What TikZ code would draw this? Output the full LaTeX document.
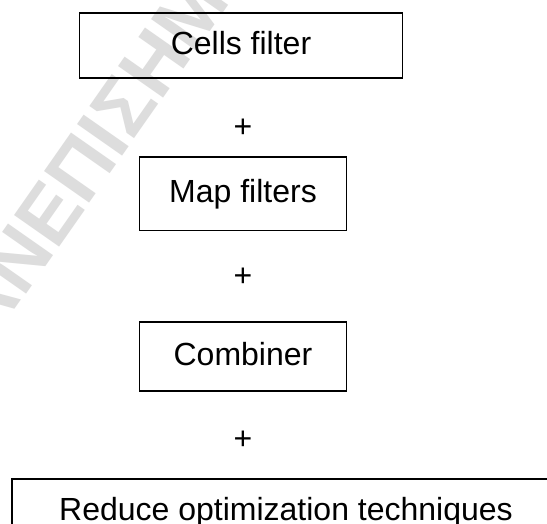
\documentclass[tikz,border=0pt]{standalone}
\usepackage{fontspec}
\setmainfont{Liberation Sans}
\newfontfamily\markfont{Liberation Sans}
\definecolor{markgray}{RGB}{221,221,221}
\tikzset{
  stagebox/.style={draw=black, line width=1.6pt, inner sep=0pt, align=center,
    font=\fontsize{32}{38}\selectfont, text height=23pt, text depth=5pt},
  plussign/.style={font=\fontsize{32}{38}\selectfont, inner sep=0pt},
  watermark/.style={text=markgray, font=\markfont\bfseries\fontsize{80}{86}\selectfont,
    inner sep=0pt, rotate=55}
}
\begin{document}
\begin{tikzpicture}[x=1pt, y=1pt]
  \useasboundingbox (0,0) rectangle (547,-524);
  \clip (0,0) rectangle (547,-524);
  \fill[white] (0,0) rectangle (547,-524);

  % faint background stamp
  \node[watermark] (stamp) at (106,-132) {ΑΝΕΠΙΣΗΜΟ};

  % pipeline stages
  \node[stagebox, minimum width=323pt, minimum height=65pt] (cells) at (241,-45.75) {Cells filter};
  \node[plussign] (p1) at (243,-128.5) {+};
  \node[stagebox, minimum width=207pt, minimum height=73.6pt] (map) at (243,-193.8) {Map filters};
  \node[plussign] (p2) at (243,-277) {+};
  \node[stagebox, minimum width=207pt, minimum height=69pt] (comb) at (243,-356.5) {Combiner};
  \node[plussign] (p3) at (243,-440.5) {+};
  \node[stagebox, minimum width=548pt, minimum height=64pt] (reduce) at (286,-511) {Reduce optimization techniques};
\end{tikzpicture}
\end{document}
